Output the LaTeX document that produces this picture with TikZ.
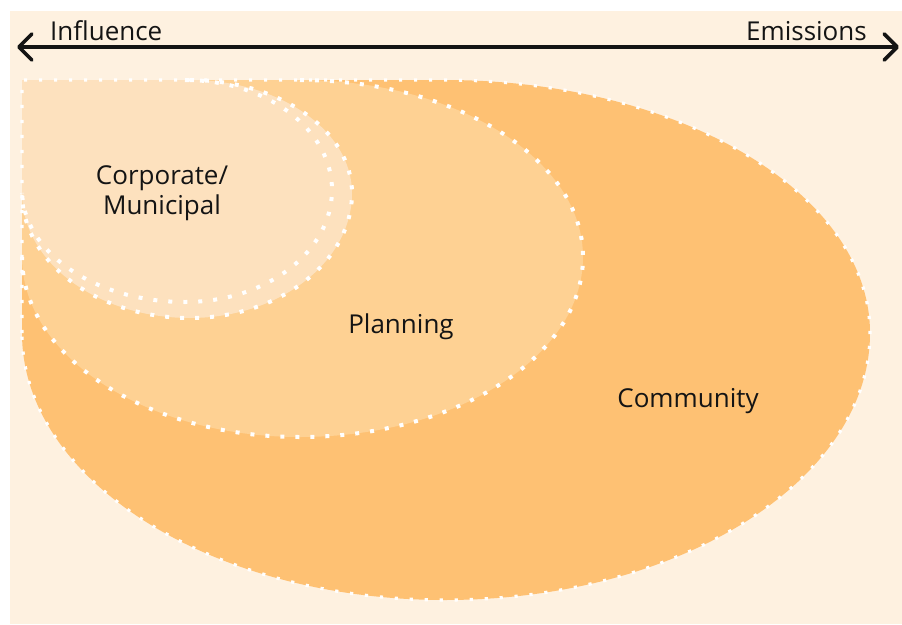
\documentclass[tikz,border=0pt]{standalone}
\usepackage{fontspec}
\setmainfont{Open Sans}
\usetikzlibrary{arrows.meta}
\definecolor{cream}{HTML}{FEF1E0}
\definecolor{commc}{HTML}{FEC173}
\definecolor{planc}{HTML}{FED193}
\definecolor{corpc}{HTML}{FDE1BE}
\definecolor{inkc}{HTML}{141414}
\begin{document}
\begin{tikzpicture}[x=1pt,y=-1pt,
  dotline/.style={draw=white,line width=4pt,dash pattern=on 4pt off 11pt},
  dotfine/.style={draw=white,line width=3.2pt,dash pattern=on 3.2pt off 11.8pt},
  lbl/.style={font=\fontsize{26}{30}\selectfont,text=inkc,inner sep=0pt},
  axis/.style={draw=inkc,line width=3.6pt,{Straight Barb[length=13pt,width=26pt,round]}-{Straight Barb[length=13pt,width=26pt,round]}}]
\useasboundingbox (0,0) rectangle (902,624);
\fill[white] (0,0) rectangle (902,624);
\fill[cream] (10,11) rectangle (902,624);
% fills
\fill[commc] (22,80) -- (445,80)
  arc[start angle=90,end angle=0,x radius=425pt,y radius=253pt]
  arc[start angle=0,end angle=-90,x radius=425pt,y radius=267pt]
  arc[start angle=-90,end angle=-180,x radius=423pt,y radius=267pt] -- cycle;
\fill[planc] (22,80) -- (300,80)
  arc[start angle=90,end angle=0,x radius=283pt,y radius=177pt]
  arc[start angle=0,end angle=-90,x radius=283pt,y radius=180pt]
  arc[start angle=-90,end angle=-180,x radius=278pt,y radius=180pt] -- cycle;
\fill[corpc] (22,80) -- (190,80)
  arc[start angle=90,end angle=0,x radius=162pt,y radius=113pt]
  arc[start angle=0,end angle=-90,x radius=162pt,y radius=125pt]
  arc[start angle=-90,end angle=-180,x radius=168pt,y radius=125pt] -- cycle;
% outlines
\path[dotfine] (22,333) -- (22,80) -- (445,80)
  arc[start angle=90,end angle=0,x radius=425pt,y radius=253pt]
  arc[start angle=0,end angle=-90,x radius=425pt,y radius=267pt]
  arc[start angle=-90,end angle=-180,x radius=423pt,y radius=267pt];
\path[dotline] (300,80)
  arc[start angle=90,end angle=0,x radius=283pt,y radius=177pt]
  arc[start angle=0,end angle=-90,x radius=283pt,y radius=180pt]
  arc[start angle=-90,end angle=-180,x radius=278pt,y radius=180pt];
\path[dotline] (190,80)
  arc[start angle=90,end angle=0,x radius=162pt,y radius=113pt]
  arc[start angle=0,end angle=-90,x radius=162pt,y radius=125pt]
  arc[start angle=-90,end angle=-180,x radius=168pt,y radius=125pt];
\path[dotline] (185,80)
  arc[start angle=90,end angle=0,x radius=147pt,y radius=110pt]
  arc[start angle=0,end angle=-90,x radius=147pt,y radius=112pt]
  arc[start angle=-90,end angle=-180,x radius=163pt,y radius=112pt];
% axis
\coordinate (lend) at (17,47);
\coordinate (rend) at (899,47);
\draw[axis] (lend) -- (rend);
\node[lbl,anchor=base west] (infl) at (50,40) {Influence};
\node[lbl,anchor=base east] (emis) at (867,40) {Emissions};
% labels
\node[lbl,align=center] (corp) at (162,193) {Corporate/\\Municipal};
\node[lbl,anchor=base] (plan) at (401,333) {Planning};
\node[lbl,anchor=base] (comm) at (688,407) {Community};
\end{tikzpicture}
\end{document}
